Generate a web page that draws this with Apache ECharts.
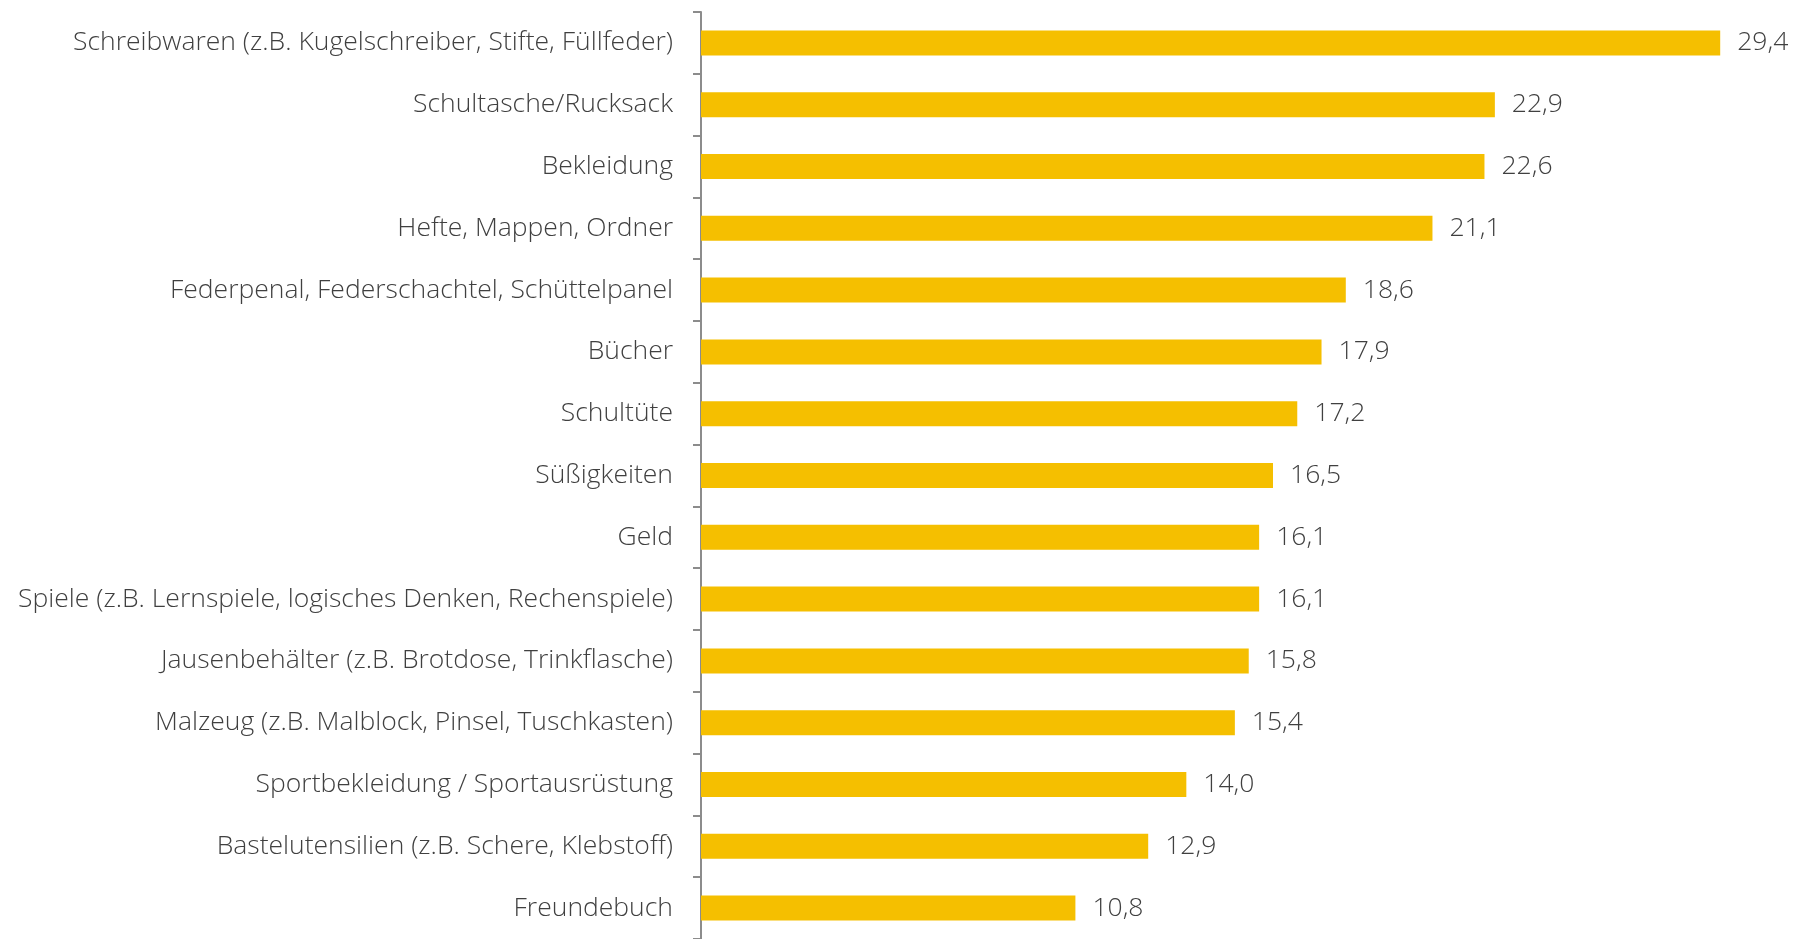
<!DOCTYPE html>
<html>
<head>
<meta charset="utf-8">
<script src="https://cdn.jsdelivr.net/npm/echarts@6/dist/echarts.min.js"></script>
<style>
    html, body { margin: 0; padding: 0; background: #fff; }
    #chart { width: 1803px; height: 939px; }
</style>
</head>
<body>
<div id="chart"></div>
<script>
    var categories = [
        'Schreibwaren (z.B. Kugelschreiber, Stifte, Füllfeder)',
        'Schultasche/Rucksack',
        'Bekleidung',
        'Hefte, Mappen, Ordner',
        'Federpenal, Federschachtel, Schüttelpanel',
        'Bücher',
        'Schultüte',
        'Süßigkeiten',
        'Geld',
        'Spiele (z.B. Lernspiele, logisches Denken, Rechenspiele)',
        'Jausenbehälter (z.B. Brotdose, Trinkflasche)',
        'Malzeug (z.B. Malblock, Pinsel, Tuschkasten)',
        'Sportbekleidung / Sportausrüstung',
        'Bastelutensilien (z.B. Schere, Klebstoff)',
        'Freundebuch'
    ];
    var values = [29.4, 22.9, 22.6, 21.1, 18.6, 17.9, 17.2, 16.5, 16.1, 16.1, 15.8, 15.4, 14.0, 12.9, 10.8];

    var chart = echarts.init(document.getElementById('chart'));
    chart.setOption({
        animation: false,
        textStyle: { fontFamily: 'Open Sans', fontWeight: 300 },
        grid: { left: 701, right: 62, top: 12, bottom: 0 },
        xAxis: {
            type: 'value',
            min: 0,
            max: 30,
            show: false
        },
        yAxis: {
            type: 'category',
            inverse: true,
            data: categories,
            axisLine: { show: true, lineStyle: { color: '#8c8c8c', width: 2 } },
            axisTick: { show: true, length: 8, lineStyle: { color: '#8c8c8c', width: 2 } },
            axisLabel: {
                color: '#404040',
                fontSize: 26.5,
                fontFamily: 'Open Sans',
                fontWeight: 300,
                margin: 28,
                padding: [9, 0, 0, 0]
            },
            splitLine: { show: false }
        },
        series: [{
            type: 'bar',
            data: values,
            barWidth: 25,
            itemStyle: { color: '#f5bf00' },
            label: {
                show: true,
                position: 'right',
                distance: 17,
                color: '#404040',
                fontSize: 26.5,
                fontFamily: 'Open Sans',
                fontWeight: 300,
                padding: [9, 0, 0, 0],
                formatter: function (p) {
                    return p.value.toFixed(1).replace('.', ',');
                }
            }
        }]
    });
</script>
</body>
</html>
